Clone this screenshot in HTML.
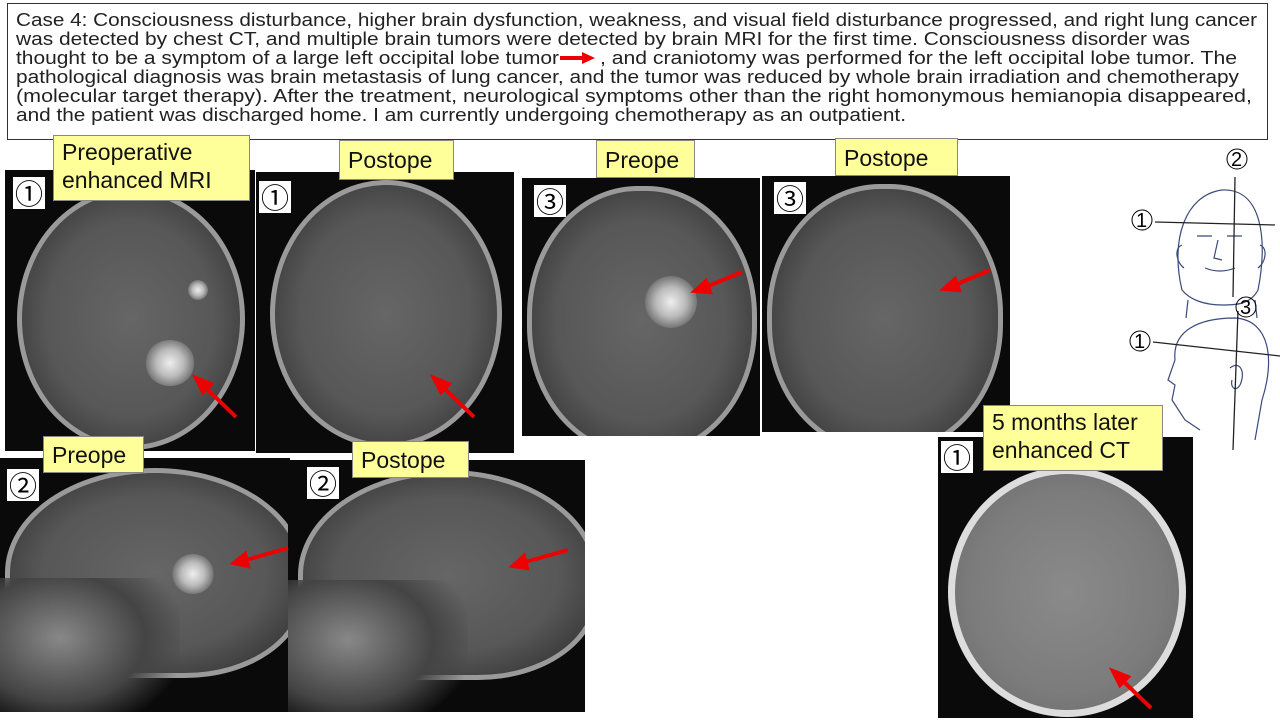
<!DOCTYPE html>
<html><head><meta charset="utf-8"><style>
body{margin:0;width:1280px;height:720px;background:#fff;position:relative;overflow:hidden;font-family:"Liberation Sans",sans-serif}
.a{position:absolute}
.img{position:absolute;background:#0a0a0a;overflow:hidden}
.br{position:absolute;border-radius:50%;background:radial-gradient(ellipse at 50% 50%,#666 0%,#575757 55%,#3c3c3c 80%,#222 100%);border:5px solid #9a9a9a;box-sizing:border-box}
.lab{position:absolute;background:#ffff99;border:1px solid #888;font-size:23px;color:#111;line-height:28px;padding:2px 8px;box-sizing:border-box}
.num{position:absolute;background:#fff;width:32px;height:32px;font-family:"Noto Sans CJK JP",sans-serif;font-size:28px;line-height:32px;text-align:center;color:#000}
.tum{position:absolute;border-radius:50%;background:radial-gradient(circle,#eee 0%,#bbb 40%,#777 70%,transparent 72%)}
.jaw{position:absolute;background:radial-gradient(ellipse at 40% 40%,#888 0%,#444 50%,rgba(10,10,10,0) 75%)}
</style></head><body>
<div class="a" style="left:7px;top:3px;width:1261px;height:137px;border:1px solid #333;box-sizing:border-box"></div>
<svg class="a" style="left:0;top:0" width="1280" height="140">
<g font-family="Liberation Sans, sans-serif" font-size="18" fill="#222">
<text x="16" y="26" textLength="1241" lengthAdjust="spacingAndGlyphs">Case 4: Consciousness disturbance, higher brain dysfunction, weakness, and visual field disturbance progressed, and right lung cancer</text>
<text x="16" y="45" textLength="1174" lengthAdjust="spacingAndGlyphs">was detected by chest CT, and multiple brain tumors were detected by brain MRI for the first time. Consciousness disorder was</text>
<text x="16" y="64" textLength="543" lengthAdjust="spacingAndGlyphs">thought to be a symptom of a large left occipital lobe tumor</text>
<text x="600" y="64" textLength="637" lengthAdjust="spacingAndGlyphs">, and craniotomy was performed for the left occipital lobe tumor. The</text>
<text x="16" y="83" textLength="1223" lengthAdjust="spacingAndGlyphs">pathological diagnosis was brain metastasis of lung cancer, and the tumor was reduced by whole brain irradiation and chemotherapy</text>
<text x="16" y="102" textLength="1236" lengthAdjust="spacingAndGlyphs">(molecular target therapy). After the treatment, neurological symptoms other than the right homonymous hemianopia disappeared,</text>
<text x="16" y="121" textLength="890" lengthAdjust="spacingAndGlyphs">and the patient was discharged home. I am currently undergoing chemotherapy as an outpatient.</text>
</g>
<path d="M560 58 H584" stroke="#e00" stroke-width="4"/><path d="M582 52 L595 58 L582 64Z" fill="#e00"/>
</svg>

<div class="img" style="left:5px;top:170px;width:250px;height:281px"><div class="br" style="left:12px;top:18px;width:228px;height:262px"></div><div class="tum" style="left:140px;top:170px;width:50px;height:46px"></div><div class="tum" style="left:183px;top:110px;width:20px;height:20px"></div></div>
<div class="img" style="left:256px;top:172px;width:258px;height:281px"><div class="br" style="left:14px;top:8px;width:232px;height:268px"></div></div>
<div class="img" style="left:522px;top:178px;width:238px;height:258px"><div class="br" style="left:5px;top:8px;width:230px;height:270px;border-radius:48%"></div><div class="tum" style="left:123px;top:98px;width:52px;height:52px"></div></div>
<div class="img" style="left:762px;top:176px;width:248px;height:256px"><div class="br" style="left:5px;top:8px;width:236px;height:270px;border-radius:48%"></div></div>
<div class="img" style="left:0px;top:458px;width:290px;height:254px"><div class="br" style="left:5px;top:10px;width:300px;height:210px;border-radius:50% 50% 40% 40%"></div><div class="tum" style="left:172px;top:96px;width:42px;height:40px"></div><div class="jaw" style="left:-20px;top:120px;width:200px;height:150px"></div></div>
<div class="img" style="left:288px;top:460px;width:297px;height:252px"><div class="br" style="left:10px;top:10px;width:300px;height:210px;border-radius:50% 50% 40% 40%"></div><div class="jaw" style="left:-20px;top:120px;width:200px;height:150px"></div></div>
<div class="img" style="left:938px;top:437px;width:255px;height:281px"><div class="br" style="left:10px;top:30px;width:238px;height:250px;border:7px solid #ddd;background:radial-gradient(ellipse,#8a8a8a 0%,#7c7c7c 60%,#666 100%)"></div></div>

<svg class="a" style="left:0;top:0" width="1280" height="720">
<g stroke="#e00" stroke-width="4" fill="#e00">
<line x1="236" y1="417" x2="205" y2="387"/><path d="M196 378 L211 384 L203 392Z"/>
<line x1="474" y1="417" x2="443" y2="387"/><path d="M434 378 L449 384 L441 392Z"/>
<line x1="742" y1="272" x2="706" y2="287"/><path d="M695 291 L706 281 L710 292Z"/>
<line x1="990" y1="270" x2="955" y2="285"/><path d="M944 289 L955 279 L959 290Z"/>
<line x1="288" y1="548" x2="246" y2="560"/><path d="M234 563 L245 554 L248 566Z"/>
<line x1="568" y1="550" x2="525" y2="562"/><path d="M513 566 L524 556 L527 568Z"/>
<line x1="1151" y1="708" x2="1122" y2="680"/><path d="M1113 671 L1128 677 L1120 685Z"/>
</g>
<g stroke="#3a4a7a" stroke-width="1.2" fill="none">
<path d="M1182 290 C1170 240 1185 195 1222 190 C1262 188 1268 240 1258 290 C1250 305 1235 305 1222 305 C1205 305 1190 300 1182 290Z"/>
<path d="M1182 245 C1174 248 1176 262 1184 268 M1260 245 C1268 248 1266 262 1258 268"/>
<path d="M1197 236 H1212 M1227 236 H1242 M1218 240 L1214 258 L1222 260 M1205 268 C1215 272 1225 272 1235 268"/>
<path d="M1188 300 L1186 318 M1255 300 L1257 318"/>
<path d="M1175 360 C1172 330 1200 318 1235 318 C1270 320 1275 360 1262 400 L1255 440 M1175 360 L1168 380 L1175 385 L1172 400 L1185 420 L1200 430"/>
<path d="M1230 368 C1240 360 1246 372 1240 385 C1236 392 1230 388 1232 380"/>
</g>
<g stroke="#222" stroke-width="1.3">
<line x1="1155" y1="222" x2="1275" y2="225"/><line x1="1235" y1="177" x2="1233" y2="297"/>
<line x1="1153" y1="342" x2="1280" y2="356"/><line x1="1238" y1="311" x2="1233" y2="450"/>
</g>
<g font-size="20" fill="#000" font-family="Liberation Sans, sans-serif">
<circle cx="1237" cy="159" r="10" fill="none" stroke="#000"/><text x="1231" y="166">2</text>
<circle cx="1142" cy="220" r="10" fill="none" stroke="#000"/><text x="1136" y="227">1</text>
<circle cx="1246" cy="307" r="10" fill="none" stroke="#000"/><text x="1240" y="314">3</text>
<circle cx="1140" cy="341" r="10" fill="none" stroke="#000"/><text x="1134" y="348">1</text>
</g>
</svg>

<div class="lab" style="left:53px;top:135px;width:197px;height:66px">Preoperative<br>enhanced MRI</div>
<div class="lab" style="left:339px;top:140px;width:115px;height:40px;line-height:34px">Postope</div>
<div class="lab" style="left:596px;top:140px;width:99px;height:38px;line-height:34px">Preope</div>
<div class="lab" style="left:835px;top:138px;width:123px;height:38px;line-height:34px">Postope</div>
<div class="lab" style="left:43px;top:436px;width:101px;height:37px;line-height:33px">Preope</div>
<div class="lab" style="left:352px;top:441px;width:117px;height:37px;line-height:33px">Postope</div>
<div class="lab" style="left:983px;top:405px;width:180px;height:66px">5 months later<br>enhanced CT</div>

<div class="num" style="left:13px;top:177px">①</div>
<div class="num" style="left:259px;top:181px">①</div>
<div class="num" style="left:534px;top:185px">③</div>
<div class="num" style="left:774px;top:182px">③</div>
<div class="num" style="left:7px;top:469px">②</div>
<div class="num" style="left:307px;top:467px">②</div>
<div class="num" style="left:941px;top:441px">①</div>
</body></html>
